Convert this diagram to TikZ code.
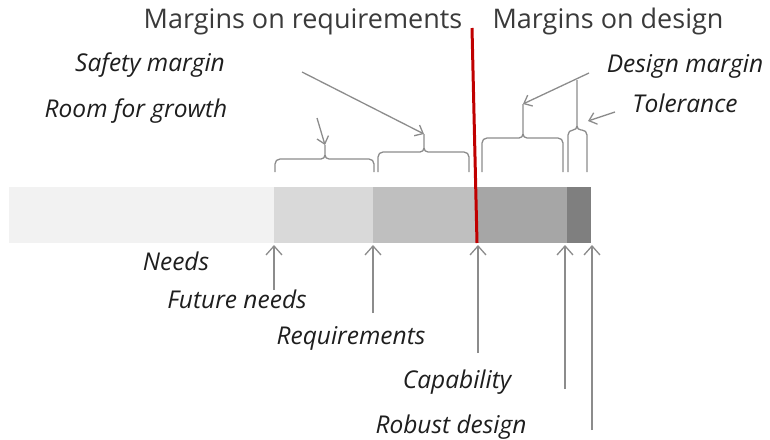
\documentclass[tikz,border=0pt]{standalone}
\usepackage{fontspec}
\setmainfont{Open Sans}
\usetikzlibrary{arrows.meta}
\definecolor{seg1}{HTML}{F2F2F2}
\definecolor{seg2}{HTML}{D9D9D9}
\definecolor{seg3}{HTML}{BFBFBF}
\definecolor{seg4}{HTML}{A6A6A6}
\definecolor{seg5}{HTML}{7F7F7F}
\definecolor{redline}{HTML}{C00000}
\definecolor{linegray}{HTML}{8C8C8C}
\definecolor{titlegray}{HTML}{3A3A3A}
\definecolor{labelgray}{HTML}{1E1E1E}
\tikzset{
  title/.style={font=\fontsize{27}{30}\selectfont, text=titlegray, anchor=base, inner sep=0pt},
  lbl/.style={font=\fontsize{24.5}{27}\selectfont\itshape, text=labelgray, anchor=base, inner sep=0pt},
  uparrow/.style={draw=linegray, line width=1.3pt, -{Straight Barb[length=9pt,width=16pt,line width=1.3pt]}},
  ptr/.style={draw=linegray, line width=1.3pt, -{Straight Barb[length=7pt,width=12pt,line width=1.3pt]}},
  bracestyle/.style={draw=linegray, line width=1.3pt},
}
% \mybrace{x1}{x2}{xm}{h}{top}{name}
\newcommand\mybrace[6]{%
  \coordinate (#6) at (#3,#5);
  \draw[bracestyle] (#1,172) -- (#1,#4+5) to[out=90,in=180] (#1+5,#4) -- (#3-4,#4) to[out=0,in=-90] (#3,#4-4) -- (#6);
  \draw[bracestyle] (#2,172) -- (#2,#4+5) to[out=90,in=0] (#2-5,#4) -- (#3+4,#4) to[out=180,in=-90] (#3,#4-4);
}
\begin{document}
\begin{tikzpicture}[x=1pt,y=-1pt]
\useasboundingbox (0,0) rectangle (770,439);
% bar
\fill[seg1] (9,187) rectangle (274,243);
\fill[seg2] (274,187) rectangle (373,243);
\fill[seg3] (373,187) rectangle (476,243);
\fill[seg4] (476,187) rectangle (567,243);
\fill[seg5] (567,187) rectangle (591,243);
% red line
\coordinate (rtop) at (472,28);
\coordinate (rbot) at (477,243);
\draw[redline, line width=3pt] (rtop) -- (rbot);
% titles
\node[title] (mreq) at (303,28) {Margins on requirements};
\node[title] (mdes) at (608,28) {Margins on design};
% labels
\node[lbl] (safety) at (150,71) {Safety margin};
\node[lbl] (room) at (136,117) {Room for growth};
\node[lbl] (dmargin) at (685,72) {Design margin};
\node[lbl] (tol) at (685,112) {Tolerance};
\node[lbl] (needs) at (176,270) {Needs};
\node[lbl] (future) at (237,308) {Future needs};
\node[lbl] (reqs) at (351,344) {Requirements};
\node[lbl] (capab) at (457,388) {Capability};
\node[lbl] (robust) at (451,433) {Robust design};
% braces
\mybrace{275}{374}{325}{159}{145}{b1}
\mybrace{378}{469}{424}{152}{134}{b2}
\mybrace{482}{563}{523}{138}{104}{b3}
\mybrace{568}{587}{577}{130}{80}{b4}
% pointer arrows
\coordinate (roomS) at (317,118);
\coordinate (safeS) at (302,72);
\coordinate (desS) at (589,73);
\coordinate (tolS) at (615,112);
\coordinate (tolE) at (588,121);
\draw[ptr] (roomS) -- (b1);
\draw[ptr] (safeS) -- (b2);
\draw[ptr] (desS) -- (b3);
\draw[ptr] (tolS) -- (tolE);
% arrows below bar
\coordinate (a1t) at (274,245); \coordinate (a1b) at (274,290);
\coordinate (a2t) at (373,245); \coordinate (a2b) at (373,313);
\coordinate (a3t) at (478,245); \coordinate (a3b) at (478,353);
\coordinate (a4t) at (565,245); \coordinate (a4b) at (565,389);
\coordinate (a5t) at (592,245); \coordinate (a5b) at (592,430);
\draw[uparrow] (a1b) -- (a1t);
\draw[uparrow] (a2b) -- (a2t);
\draw[uparrow] (a3b) -- (a3t);
\draw[uparrow] (a4b) -- (a4t);
\draw[uparrow] (a5b) -- (a5t);
\end{tikzpicture}
\end{document}
